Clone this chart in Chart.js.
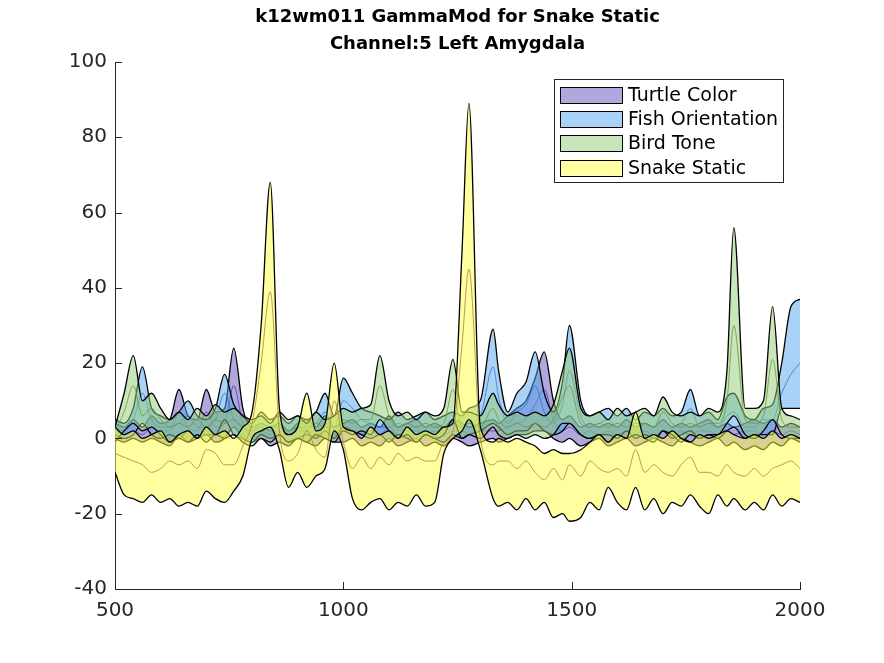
<!DOCTYPE html>
<html><head><meta charset="utf-8">
<script src="https://cdn.jsdelivr.net/npm/chart.js@4.4.1/dist/chart.umd.min.js"></script>
<style>html,body{margin:0;padding:0;background:#fff}#wrap{width:884px;height:663px;position:relative}</style>
</head><body><div id="wrap"><canvas id="c" width="884" height="663"></canvas></div>
<script>
// ---------------- data ----------------
const titleLines = ['k12wm011 GammaMod for Snake Static', 'Channel:5 Left Amygdala'];
const seriesNames = ['Turtle Color', 'Fish Orientation', 'Bird Tone', 'Snake Static'];
const xTicks = [500, 1000, 1500, 2000];
const yTicks = [-40, -20, 0, 20, 40, 60, 80, 100];

const xValues = [500,520,540,560,580,600,620,640,660,680,
  700,720,740,760,780,800,820,840,860,880,
  900,920,940,960,980,1000,1020,1040,1060,1080,
  1100,1120,1140,1160,1180,1200,1220,1240,1260,1275,
  1300,1328,1340,1360,1380,1400,1420,1440,1460,1480,
  1495,1520,1540,1560,1580,1600,1620,1640,1660,1680,
  1700,1720,1740,1760,1780,1800,1820,1840,1855,1880,
  1900,1920,1940,1960,1980,2000];

const turtleUpper = [4,3,5,3,6,4,5,13,6,5, 13,7,8,24,8,3,4,3,4,2, 4,5,3,6,3,4,5,3,4,3, 6,3,4,5,3,4,3,5,4,3, 4,5,4,6,8,10,16,23,10,5, 6,3,4,3,4,3,5,3,4,3, 5,3,4,3,4,5,3,4,3,4, 5,4,5,3,4,3];
const turtleMean  = [2,1,2,1,3,2,2,7,3,2, 7,3,4,14,4,1,2,1,2,1, 2,2,1,3,1,2,2,1,2,1, 3,1,2,2,1,2,1,2,2,1, 2,2,2,3,4,5,9,13,5,2, 3,1,2,1,2,1,2,1,2,1, 2,1,2,1,2,2,1,2,1,2, 2,1,2,1,2,1];
const turtleLower = [0,-1,0,-1,0,-1,-2,1,-1,0, 1,-1,0,3,0,-1,0,-2,-1,-2, 0,-1,-2,0,-1,-1,0,-2,-1,-2, 0,-2,-1,0,-2,-1,-2,0,-1,-2, -1,0,-1,0,1,1,2,2,0,-1, 0,-2,-1,0,-2,-1,0,-2,-1,0, -1,-2,0,-1,-2,-1,0,-2,-1,-3, -2,-3,-1,-2,0,-1];

const fishUpper = [5,4,8,19,8,6,5,7,10,6, 5,8,17,9,6,4,7,5,6,4, 6,5,7,12,6,16,12,8,7,6, 5,7,5,6,7,5,6,7,6,8, 10,29,18,7,12,15,23,12,7,15, 30,10,6,7,8,6,8,5,7,6, 8,6,7,13,6,7,5,11,12,6, 5,8,9,20,35,37];
const fishMean  = [3,2,5,12,5,3,3,4,6,3, 3,5,12,5,3,2,4,3,3,2, 3,3,4,7,3,10,8,5,4,3, 3,4,3,3,4,3,3,4,3,4, 6,19,11,4,7,9,14,7,4,9, 18,6,3,4,5,3,5,3,4,3, 5,3,4,8,3,4,3,6,7,3, 3,5,5,12,17,20];
const fishLower = [1,0,1,4,1,0,1,0,2,0, 1,1,5,1,0,-1,1,0,1,-1, 0,1,0,2,0,3,2,1,0,1, -1,1,0,-1,1,0,-1,1,0,1, 2,4,3,1,2,2,4,2,1,2, 4,1,0,1,1,0,2,0,1,0, 2,0,1,2,0,1,0,2,3,0, 1,1,1,8,8,8];

const birdUpper = [3,12,22,10,12,8,5,7,5,8, 6,9,7,8,6,5,6,4,7,5, 6,4,7,5,6,8,7,8,9,22, 10,6,7,5,7,6,8,21,7,7, 6,12,9,6,7,6,7,6,9,18, 24,8,6,7,5,8,6,7,8,6, 11,7,6,7,6,8,7,18,56,8, 8,10,35,8,6,5];
const birdMean  = [2,7,14,6,8,5,3,4,3,5, 3,5,4,5,3,2,3,2,4,2, 3,2,4,3,3,5,4,5,5,14, 6,3,4,3,4,3,4,13,3,4, 3,8,5,3,4,3,4,3,5,11, 14,4,3,4,3,4,3,4,4,3, 7,4,3,4,3,4,4,10,30,5, 4,6,21,5,3,3];
const birdLower = [-1,2,4,2,3,1,-1,0,-1,1, -1,1,0,1,-1,-2,0,-1,1,-1, 0,-1,1,0,-1,2,1,2,1,5, 2,0,1,-1,1,0,1,5,0,1, 0,3,1,0,1,0,1,0,1,4, 4,1,0,1,-1,1,0,1,0,-1, 2,1,-1,1,0,1,1,4,6,1, 0,2,5,1,0,0];

const snakeUpper = [3,1,2,0,1,2,-1,1,2,0, 3,1,2,0,3,7,30,68,8,1, 3,12,2,4,20,3,2,0,3,1, 2,0,3,1,2,1,3,4,50,89, 3,-1,0,-1,0,-1,-2,-4,-3,-4, -4,-3,-1,1,-1,1,0,7,0,1, 0,2,0,-1,1,0,1,2,1,0, 1,0,2,0,1,0];
const snakeMean  = [-4,-5,-6,-7,-9,-8,-6,-7,-6,-8, -3,-4,-7,-7,-2,4,20,39,2,-6, -4,2,-3,-5,10,-1,-8,-5,-8,-5, -7,-4,-6,-5,-6,-6,-1,2,25,45, 0,-7,-6,-6,-8,-6,-9,-11,-8,-11, -7,-10,-6,-8,-9,-8,-10,-3,-9,-7, -9,-10,-7,-5,-9,-9,-10,-7,-9,-10, -8,-10,-8,-7,-6,-8];
const snakeLower = [-9,-15,-16,-17,-15,-17,-16,-18,-17,-18, -14,-16,-17,-14,-10,0,2,3,-3,-13, -9,-13,-10,-8,2,-3,-16,-19,-17,-16, -19,-17,-18,-15,-18,-17,-4,0,2,5, -3,-16,-18,-17,-19,-16,-19,-17,-21,-20, -22,-21,-17,-19,-13,-17,-19,-13,-19,-16, -20,-17,-18,-15,-18,-20,-15,-18,-16,-19, -17,-19,-15,-18,-16,-17];

// ---------------- styles ----------------
const bandStyles = [
  {fill: 'rgba(97,81,185,0.5)',  mean: 'rgba(60,50,175,0.75)'},
  {fill: 'rgba(81,165,237,0.5)', mean: 'rgba(55,105,190,0.75)'},
  {fill: 'rgba(145,205,117,0.5)', mean: 'rgba(110,150,60,0.8)'},
  {fill: 'rgba(255,255,65,0.5)', mean: 'rgba(165,130,70,0.8)'}
];
const series = [
  {name: seriesNames[0], upper: turtleUpper, mean: turtleMean, lower: turtleLower},
  {name: seriesNames[1], upper: fishUpper, mean: fishMean, lower: fishLower},
  {name: seriesNames[2], upper: birdUpper, mean: birdMean, lower: birdLower},
  {name: seriesNames[3], upper: snakeUpper, mean: snakeMean, lower: snakeLower}
];
const toPts = ys => xValues.map((x, i) => ({x: x, y: ys[i]}));

const datasets = [];
series.forEach((s, k) => {
  const base = datasets.length;
  const ord = (4 - k) * 10;
  const common = {pointRadius: 0, pointHoverRadius: 0, cubicInterpolationMode: 'monotone'};
  datasets.push(Object.assign({label: s.name, data: toPts(s.upper), fill: base + 1,
    backgroundColor: bandStyles[k].fill, borderColor: '#000', borderWidth: 1.3, order: ord + 2}, common));
  datasets.push(Object.assign({label: s.name + ' lower', data: toPts(s.lower), fill: false,
    borderColor: '#000', borderWidth: 1.3, order: ord + 1}, common));
  datasets.push(Object.assign({label: s.name + ' mean', data: toPts(s.mean), fill: false,
    borderColor: bandStyles[k].mean, borderWidth: 1, order: ord}, common));
});

const AXIS_COLOR = '#262626';
const FONT = 'DejaVu Sans';

const decorPlugin = {
  id: 'decor',
  afterDraw(chart) {
    const ctx = chart.ctx;
    const a = chart.chartArea;
    const xs = chart.scales.x, ys = chart.scales.y;
    ctx.save();
    // inward tick marks
    ctx.strokeStyle = AXIS_COLOR; ctx.lineWidth = 1;
    ctx.beginPath();
    xTicks.forEach(v => { const p = Math.round(xs.getPixelForValue(v)) + 0.5; ctx.moveTo(p, a.bottom); ctx.lineTo(p, a.bottom - 7); });
    yTicks.forEach(v => { const p = Math.round(ys.getPixelForValue(v)) + 0.5; ctx.moveTo(a.left, p); ctx.lineTo(a.left + 7, p); });
    ctx.stroke();
    // title
    const cx = (a.left + a.right) / 2;
    ctx.fillStyle = '#000';
    ctx.font = 'bold 18px "' + FONT + '"';
    ctx.textAlign = 'center'; ctx.textBaseline = 'middle';
    ctx.fillText(titleLines[0], cx, 17);
    ctx.fillText(titleLines[1], cx, 44);
    // legend box
    const lw = 229, lh = 103;
    const lx = a.right - 17 - lw, ly = a.top + 17;
    ctx.fillStyle = '#fff';
    ctx.fillRect(lx, ly, lw, lh);
    ctx.strokeStyle = AXIS_COLOR;
    ctx.strokeRect(Math.round(lx) + 0.5, Math.round(ly) + 0.5, lw, lh);
    ctx.font = '19px "' + FONT + '"';
    ctx.textAlign = 'left';
    series.forEach((s, k) => {
      const cy = ly + 16 + k * 24.2;
      ctx.fillStyle = bandStyles[k].fill;
      ctx.fillRect(lx + 6, cy - 8, 62, 16);
      ctx.strokeStyle = '#000';
      ctx.strokeRect(Math.round(lx + 6) + 0.5, Math.round(cy - 8) + 0.5, 62, 16);
      ctx.fillStyle = '#000';
      ctx.fillText(s.name, lx + 74, cy + 1);
    });
    ctx.restore();
  }
};

Chart.defaults.font.family = FONT;
new Chart(document.getElementById('c'), {
  type: 'line',
  data: {datasets: datasets},
  options: {
    responsive: false,
    animation: false,
    events: [],
    layout: {padding: {left: 0, right: 84, top: 62, bottom: 0}},
    plugins: {legend: {display: false}, title: {display: false}, tooltip: {enabled: false},
      filler: {propagate: false}},
    scales: {
      x: {
        type: 'linear', min: 500, max: 2000,
        grid: {display: false, drawTicks: false},
        border: {display: true, color: AXIS_COLOR, width: 1},
        afterBuildTicks: sc => { sc.ticks = xTicks.map(v => ({value: v})); },
        afterFit: sc => { sc.height = 74; },
        ticks: {color: AXIS_COLOR, font: {size: 20, family: FONT}, padding: 10, maxRotation: 0,
          callback: v => String(v)}
      },
      y: {
        type: 'linear', min: -40, max: 100,
        grid: {display: false, drawTicks: false},
        border: {display: true, color: AXIS_COLOR, width: 1},
        afterBuildTicks: sc => { sc.ticks = yTicks.map(v => ({value: v})); },
        afterFit: sc => { sc.width = 115; },
        ticks: {color: AXIS_COLOR, font: {size: 20, family: FONT}, padding: 8,
          callback: v => String(v)}
      }
    }
  },
  plugins: [decorPlugin]
});
</script>
</body></html>
